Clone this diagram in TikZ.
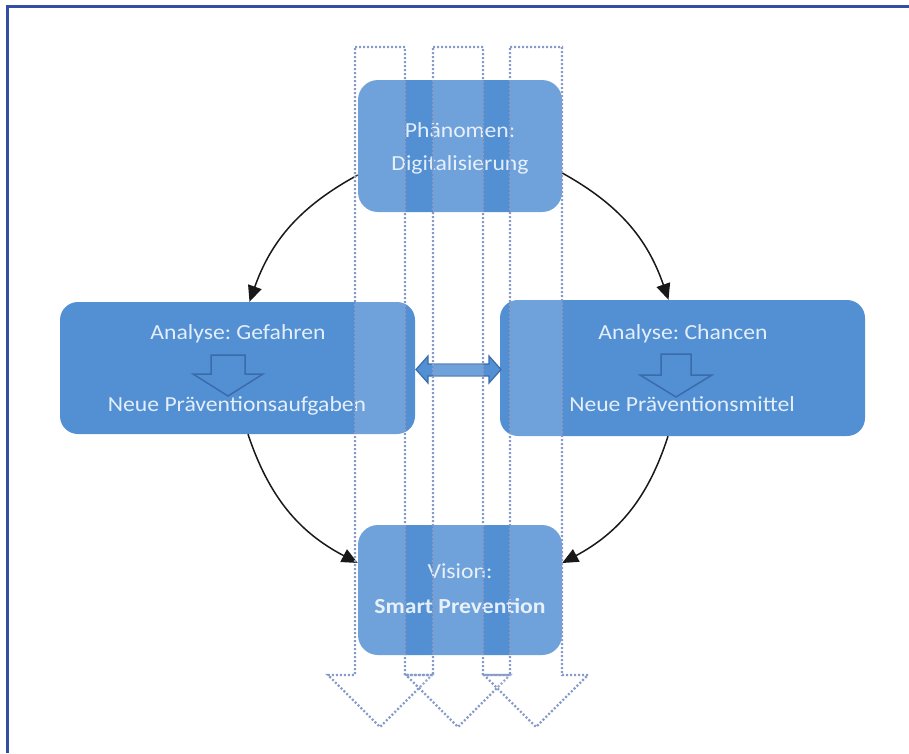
\documentclass[tikz,border=0pt]{standalone}
\usepackage{fontspec}
\setmainfont{Carlito}[FakeStretch=1.1]
\usetikzlibrary{arrows.meta}
\frenchspacing
\definecolor{boxblue}{RGB}{82,144,211}
\definecolor{boxtext}{RGB}{228,238,250}
\definecolor{edgeblue}{RGB}{58,108,172}
\definecolor{dotblue}{RGB}{135,155,200}
\definecolor{framecol}{RGB}{52,78,165}
\definecolor{conncol}{RGB}{25,25,25}
\tikzset{
  stepbox/.style={fill=boxblue, draw=none, rounded corners=20pt, inner sep=0pt},
  lbl/.style={text=boxtext, anchor=base, inner sep=0pt, font=\fontsize{21.5}{26}\selectfont},
  conn/.style={draw=conncol, line width=1.5pt, -{Triangle[length=16pt,width=14pt]}},
  dotarrow/.style={draw=dotblue, fill=white, fill opacity=0.17, line width=2.2pt, dash pattern=on 2pt off 2pt},
  hollow/.style={draw=edgeblue, line width=1.5pt, line join=miter},
  dblarrow/.style={fill=boxblue, draw=edgeblue, line width=1.2pt, line join=miter}
}
\begin{document}
\begin{tikzpicture}[x=1pt,y=-1pt]
\useasboundingbox (0,0) rectangle (909,753);
\fill[white] (0,0) rectangle (909,753);
% frame
\draw[framecol, line width=3pt] (7.5,753) -- (7.5,6.5) -- (909,6.5);

% boxes
\node[stepbox, minimum width=204pt, minimum height=132pt] (phen) at (460,146) {};
\node[stepbox, minimum width=355pt, minimum height=132pt, rounded corners=18pt] (gef) at (237.5,368) {};
\node[stepbox, minimum width=365pt, minimum height=136pt, rounded corners=18pt] (chan) at (682.5,368) {};
\node[stepbox, minimum width=204pt, minimum height=130pt] (vis) at (460,590) {};

% texts
\node[lbl] (phen1) at (460,137) {Phänomen:};
\node[lbl] (phen2) at (460,170) {Digitalisierung};
\node[lbl] (gef1) at (238,339) {Analyse: Gefahren};
\node[lbl] (gef2) at (237,411) {Neue Präventionsaufgaben};
\node[lbl] (chan1) at (683,339) {Analyse: Chancen};
\node[lbl] (chan2) at (682,411) {Neue Präventionsmittel};
\node[lbl] (vis1) at (460,578) {Vision:};
\node[lbl, font=\fontsize{21.5}{26}\selectfont\bfseries] (vis2) at (460,613) {Smart Prevention};

% hollow arrows inside boxes
\draw[hollow] (211,355) -- (245,355) -- (245,374) -- (263,374) -- (228,396) -- (193,374) -- (211,374) -- cycle;
\draw[hollow] (661,354) -- (691,354) -- (691,375) -- (712,375) -- (676,397) -- (640,375) -- (661,375) -- cycle;

% double arrow between analysis boxes
\path[dblarrow] (416,369.5) -- (428,356) -- (428,364) -- (489,364) -- (489,356) -- (501,369.5) -- (489,383) -- (489,376) -- (428,376) -- (428,383) -- cycle;

% curved connectors
\draw[conn] ([yshift=-29pt]phen.west) to[bend right=21] ([xshift=12pt]gef.north);
\draw[conn] ([yshift=-27pt]phen.east) to[bend left=21] ([xshift=-14pt]chan.north);
\draw[conn] ([xshift=10.5pt]gef.south) to[bend right=22] ([yshift=27pt]vis.west);
\draw[conn] ([xshift=-14.5pt]chan.south) to[bend left=22] ([yshift=27pt]vis.east);

% dotted translucent arrows
\path[dotarrow] (355,47) -- (405,47) -- (405,675) -- (432,675) -- (380,727) -- (328,675) -- (355,675) -- cycle;
\path[dotarrow] (433,47) -- (483,47) -- (483,675) -- (510,675) -- (458,727) -- (406,675) -- (433,675) -- cycle;
\path[dotarrow] (510,47) -- (562,47) -- (562,675) -- (588,675) -- (536,727) -- (484,675) -- (510,675) -- cycle;
\end{tikzpicture}
\end{document}
